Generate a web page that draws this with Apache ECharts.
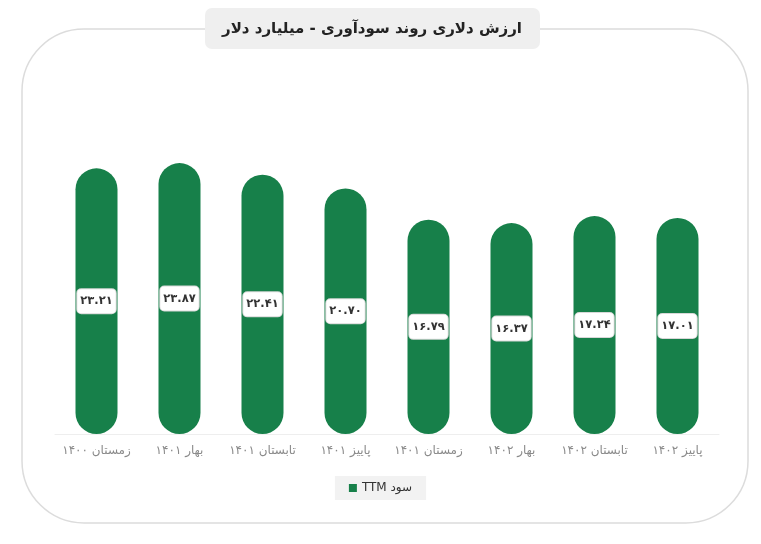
<!DOCTYPE html>
<html><head><meta charset="utf-8">
<script src="https://cdn.jsdelivr.net/npm/echarts@6/dist/echarts.min.js"></script>
<style>html,body{margin:0;padding:0;background:#fff}#c{width:761px;height:544px}</style>
</head><body><div id="c"></div>
<script>
var categories = ['زمستان ۱۴۰۰','بهار ۱۴۰۱','تابستان ۱۴۰۱','پاییز ۱۴۰۱','زمستان ۱۴۰۱','بهار ۱۴۰۲','تابستان ۱۴۰۲','پاییز ۱۴۰۲'];
var profitTTM = [23.21, 23.87, 22.41, 20.70, 16.79, 16.37, 17.24, 17.01];
var seriesName = 'سود TTM';
var titleText = 'ارزش دلاری روند سودآوری - میلیارد دلار';

function fa(s){ return String(s).replace(/[0-9]/g, function(d){ return '۰۱۲۳۴۵۶۷۸۹'[+d]; }); }
var FONT = '"DejaVu Sans", "Noto Sans", sans-serif';
var chart = echarts.init(document.getElementById('c'), null, {renderer:'canvas'});
chart.setOption({
  backgroundColor:'#fff',
  animation:false,
  graphic:[
    {type:'rect', z:-10, shape:{x:22,y:29,width:726,height:494,r:62}, style:{fill:'#fff',stroke:'#dcdcdc',lineWidth:1.5}},
    {type:'rect', z:-5, shape:{x:205,y:8,width:335,height:41,r:7}, style:{fill:'#efefef'}},
    {type:'text', z:-4, x:372, y:29, style:{text:titleText, fill:'#222', font:'bold 15px '+FONT, align:'center', verticalAlign:'middle'}}
  ],
  legend:{
    bottom:44, left:'center', itemWidth:8, itemHeight:8, icon:'rect',
    backgroundColor:'#f2f2f2', padding:[6,14], itemGap:6,
    textStyle:{color:'#333', fontSize:12, fontFamily:FONT},
    formatter:function(n){ return '\u202B'+n+'\u202C'; }
  },
  grid:{left:55, right:42, top:114, bottom:110},
  xAxis:{type:'category', data:categories,
    axisLine:{show:true, onZero:false, lineStyle:{color:'#eeeeee', width:1}}, axisTick:{show:false},
    axisLabel:{color:'#8a8a8a', fontSize:12, fontFamily:FONT, margin:11, interval:0}},
  yAxis:{type:'value', min:-10, max:30, startValue:-10, show:false, splitLine:{show:false}},
  series:[{
    name:seriesName, type:'bar', data:profitTTM, barWidth:42,
    itemStyle:{color:'#17804a', borderRadius:21},
    label:{show:true, position:'inside', formatter:function(p){return fa(p.value.toFixed(2));},
      color:'#333', fontWeight:'bold', fontSize:11.5, fontFamily:FONT,
      backgroundColor:'#fff', borderColor:'#d8d8d8', borderWidth:1, borderRadius:4, padding:[6,3]}
  }]
});
</script></body></html>
